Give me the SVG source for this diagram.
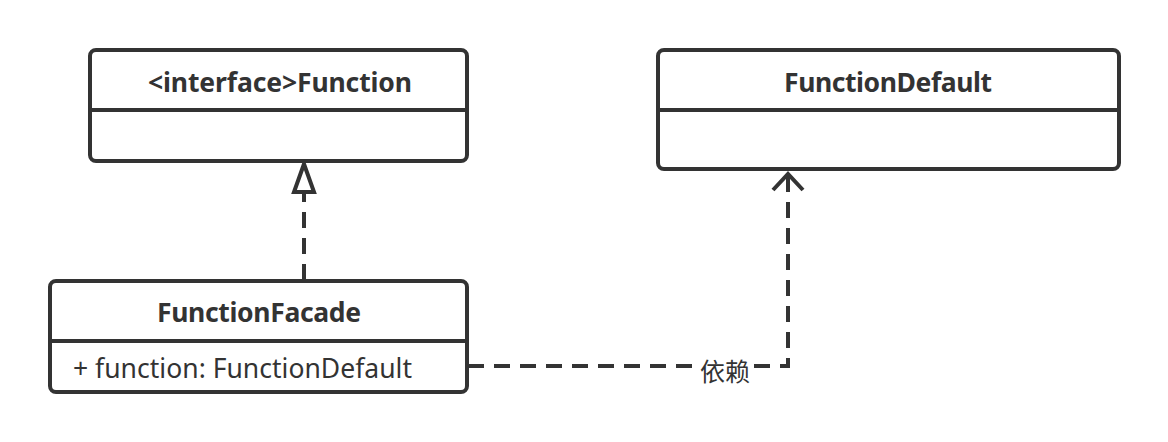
<svg xmlns="http://www.w3.org/2000/svg" width="1168" height="442" viewBox="0 0 1168 442">
<defs>
<style>
.box{fill:#fff;stroke:#333;stroke-width:4}
.div{stroke:#333;stroke-width:4}
.title{font-family:"Noto Sans","Open Sans","Noto Sans CJK SC",sans-serif;font-weight:bold;font-size:26.5px;fill:#333;text-anchor:middle}
.attr{font-family:"Noto Sans","Open Sans","Noto Sans CJK SC",sans-serif;font-size:26.5px;fill:#333}
.edge{fill:none;stroke:#333;stroke-width:4;stroke-dasharray:16 10}
.lbl{font-family:"Noto Sans CJK SC","Noto Sans",sans-serif;font-size:25px;fill:#333;text-anchor:middle}
</style>
</defs>
<rect width="1168" height="442" fill="#fff"/>
<g id="connectors">
<path class="edge" d="M304 280 V193"/>
<polygon points="304,164 294,192 314,192" fill="#fff" stroke="#333" stroke-width="4" stroke-linejoin="miter"/>
<path class="edge" d="M468 366 H788 V176"/>
<path d="M773 190 L788 174 L803 190" fill="none" stroke="#333" stroke-width="4"/>
<rect x="698" y="352" width="54" height="30" fill="#fff"/>
<text class="lbl" x="725" y="381">依赖</text>
</g>
<g id="Function">
<rect class="box" x="90" y="50" width="377" height="111" rx="6"/>
<line class="div" x1="90" y1="110" x2="467" y2="110"/>
<text class="title" x="280" y="92" textLength="264">&lt;interface&gt;Function</text>
</g>
<g id="FunctionDefault">
<rect class="box" x="658" y="50" width="461" height="119" rx="6"/>
<line class="div" x1="658" y1="110" x2="1119" y2="110"/>
<text class="title" x="888" y="92" textLength="208">FunctionDefault</text>
</g>
<g id="FunctionFacade">
<rect class="box" x="50" y="281" width="417" height="111" rx="6"/>
<line class="div" x1="50" y1="341" x2="467" y2="341"/>
<text class="title" x="259" y="322" textLength="204">FunctionFacade</text>
<text class="attr" x="73" y="378" textLength="339">+ function: FunctionDefault</text>
</g>
</svg>
